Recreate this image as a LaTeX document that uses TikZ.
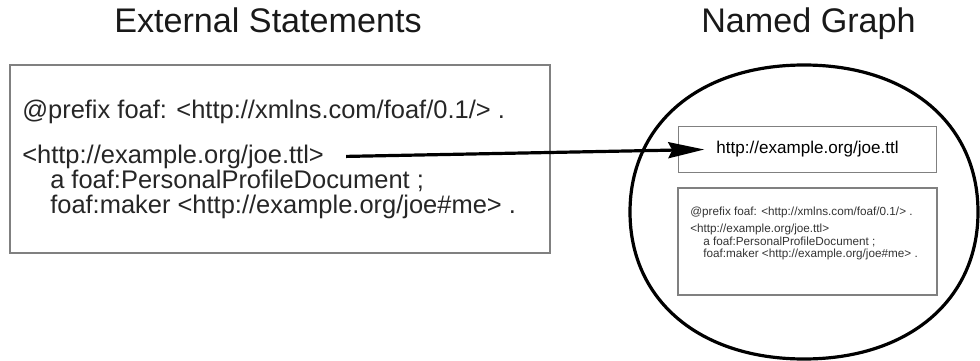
\documentclass[tikz,border=0pt]{standalone}
\usepackage{fontspec}
\setmainfont{Liberation Sans}
\usetikzlibrary{arrows.meta}
\begin{document}
\begin{tikzpicture}[x=0.75pt,y=-0.75pt,
  title/.style={font=\fontsize{25.6}{30}\selectfont, inner sep=0pt, anchor=base, text=black!90},
  bigtxt/.style={font=\fontsize{19.1}{23}\selectfont, inner sep=0pt, anchor=base west, text=black!85},
  smalltxt/.style={font=\fontsize{8.8}{10}\selectfont, inner sep=0pt, anchor=base west, text=black!80},
  frame/.style={draw=black!50, line width=0.8pt},
  graphline/.style={line width=2.4pt},
  link/.style={line width=2.4pt, -{Stealth[length=27pt,width=12pt,inset=3pt]}}
]
\useasboundingbox (0,0) rectangle (980,360);
% titles
\node[title] (t1) at (268,33) {External Statements};
\node[title] (t2) at (808.5,33) {Named Graph};
% left box
\draw[frame] (10,65) rectangle (550,253);
\node[bigtxt] (l1) at (22,118) {@prefix foaf: <http://xmlns.com/foaf/0.1/> .};
\node[bigtxt] (l2) at (22,163) {<http://example.org/joe.ttl>};
\node[bigtxt] (l3) at (50,188) {a foaf:PersonalProfileDocument ;};
\node[bigtxt] (l4) at (50,213) {foaf:maker <http://example.org/joe\#me> .};
% named graph outline
\draw[graphline] (804,65) .. controls (908.4,65) and (978,123.8) .. (978,212)
  .. controls (978,300.2) and (908.4,359) .. (804,359)
  .. controls (699.6,359) and (630,300.2) .. (630,212)
  .. controls (630,123.8) and (699.6,65) .. cycle;
\node[frame, minimum width=194pt, minimum height=34pt, inner sep=0pt, font=\fontsize{12.8}{15}\selectfont] (uri) at (807.5,149.5) {http://example.org/joe.ttl};
\draw[frame] (678,188) rectangle (937,295);
\node[smalltxt] (s1) at (690,215) {@prefix foaf: <http://xmlns.com/foaf/0.1/> .};
\node[smalltxt] (s2) at (690,232) {<http://example.org/joe.ttl>};
\node[smalltxt] (s3) at (703,245) {a foaf:PersonalProfileDocument ;};
\node[smalltxt] (s4) at (703,257) {foaf:maker <http://example.org/joe\#me> .};
% arrow
\draw[link] ([xshift=16.5pt]l2.east) -- ([xshift=20pt]uri.west);
\end{tikzpicture}
\end{document}
